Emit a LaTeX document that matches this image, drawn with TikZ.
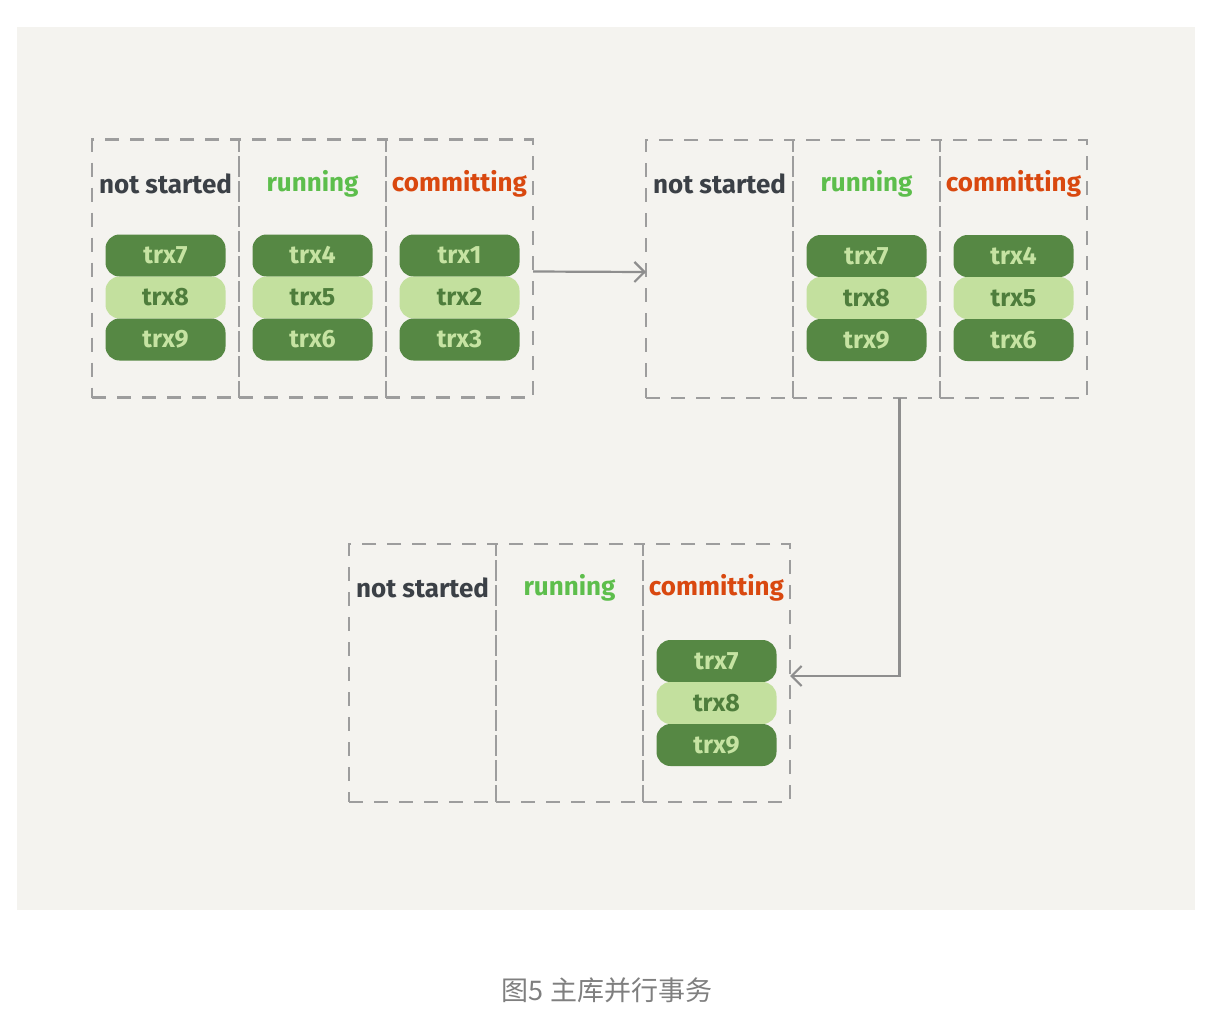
\documentclass[tikz,border=0pt]{standalone}
\usepackage{fontspec}
\setmainfont{Fira Sans}
\newfontfamily\cjk{Noto Sans CJK SC}
\usepackage{tikz}
\usetikzlibrary{positioning,arrows.meta}
\definecolor{bg}{HTML}{F4F3EF}
\definecolor{dashgray}{HTML}{9D9D9D}
\definecolor{arrowgray}{HTML}{8E8E8E}
\definecolor{trxdark}{HTML}{568844}
\definecolor{trxlight}{HTML}{C3E09E}
\definecolor{textlight}{HTML}{C6E3A2}
\definecolor{textdark}{HTML}{4E7D3C}
\definecolor{headgray}{HTML}{3B4046}
\definecolor{headgreen}{HTML}{5DBE4C}
\definecolor{headred}{HTML}{D9480F}
\definecolor{capgray}{HTML}{7F7F7F}
\tikzset {
    style box/.style={
        draw=dashgray,
        line width=2.8pt,
        dash pattern=on 14pt off 11pt,
        rectangle, % Set the shape as a rectangle
        minimum width=147pt,
        minimum height=258pt,
        inner sep=0pt,
        outer sep=0pt,
    },
    style head/.style={
        font=\fontsize{26pt}{30pt}\selectfont\bfseries,
        inner sep=0pt,
    },
    style dark/.style={
        fill=trxdark,
        text=textlight,
        rounded corners=14pt,
        rectangle, % Set the shape as a rectangle
        minimum width=120pt,
        minimum height=42pt,
        inner sep=0pt,
        outer sep=0pt,
        font=\fontsize{25pt}{29pt}\selectfont\bfseries,
    },
    style light/.style={
        style dark,
        fill=trxlight,
        text=textdark,
    },
    style arrow/.style={
        draw=arrowgray,
        line width=2.2pt,
        -{Straight Barb[length=10pt,width=20pt]},
    },
}
\begin{document}
\begin{tikzpicture}[x=1pt, y=-1pt]
        \useasboundingbox (0,0) rectangle (1222,1012);
        \fill[bg] (17,27) rectangle (1195,910);

        % first state
        \node[style box] at (165.5,268.5) (p1c1) {};
        \node[style box, right=0pt of p1c1] (p1c2) {};
        \node[style box, right=0pt of p1c2] (p1c3) {};
        \node[style head, text=headgray] at ([yshift=-44pt]p1c1.north) (p1h1) {not started};
        \node[style head, text=headgreen] at ([yshift=-44pt]p1c2.north) (p1h2) {running};
        \node[style head, text=headred] at ([yshift=-44pt]p1c3.north) (p1h3) {committing};
        \node[style dark] at ([yshift=-116pt]p1c1.north) (p1t7) {trx7};
        \node[style light, below=0pt of p1t7] (p1t8) {trx8};
        \node[style dark, below=0pt of p1t8] (p1t9) {trx9};
        \node[style dark] at ([yshift=-116pt]p1c2.north) (p1t4) {trx4};
        \node[style light, below=0pt of p1t4] (p1t5) {trx5};
        \node[style dark, below=0pt of p1t5] (p1t6) {trx6};
        \node[style dark] at ([yshift=-116pt]p1c3.north) (p1t1) {trx1};
        \node[style light, below=0pt of p1t1] (p1t2) {trx2};
        \node[style dark, below=0pt of p1t2] (p1t3) {trx3};

        % second state
        \node[style box] at (719.5,269) (p2c1) {};
        \node[style box, right=0pt of p2c1] (p2c2) {};
        \node[style box, right=0pt of p2c2] (p2c3) {};
        \node[style head, text=headgray] at ([yshift=-44pt]p2c1.north) (p2h1) {not started};
        \node[style head, text=headgreen] at ([yshift=-44pt]p2c2.north) (p2h2) {running};
        \node[style head, text=headred] at ([yshift=-44pt]p2c3.north) (p2h3) {committing};
        \node[style dark] at ([yshift=-116pt]p2c2.north) (p2t7) {trx7};
        \node[style light, below=0pt of p2t7] (p2t8) {trx8};
        \node[style dark, below=0pt of p2t8] (p2t9) {trx9};
        \node[style dark] at ([yshift=-116pt]p2c3.north) (p2t4) {trx4};
        \node[style light, below=0pt of p2t4] (p2t5) {trx5};
        \node[style dark, below=0pt of p2t5] (p2t6) {trx6};

        % third state
        \node[style box] at (422.5,673) (p3c1) {};
        \node[style box, right=0pt of p3c1] (p3c2) {};
        \node[style box, right=0pt of p3c2] (p3c3) {};
        \node[style head, text=headgray] at ([yshift=-44pt]p3c1.north) (p3h1) {not started};
        \node[style head, text=headgreen] at ([yshift=-44pt]p3c2.north) (p3h2) {running};
        \node[style head, text=headred] at ([yshift=-44pt]p3c3.north) (p3h3) {committing};
        \node[style dark] at ([yshift=-117pt]p3c3.north) (p3t7) {trx7};
        \node[style light, below=0pt of p3t7] (p3t8) {trx8};
        \node[style dark, below=0pt of p3t8] (p3t9) {trx9};

        \draw[style arrow] ([yshift=-3pt]p1c3.east) -- ([yshift=-3pt]p2c1.west);
        \draw[style arrow] ([xshift=33pt]p2c2.south) |- ([yshift=-3pt]p3c3.east);

        \node[text=capgray, font=\cjk\fontsize{27pt}{31pt}\selectfont] at (607,990) (caption) {图5 主库并行事务};
\end{tikzpicture}
\end{document}
